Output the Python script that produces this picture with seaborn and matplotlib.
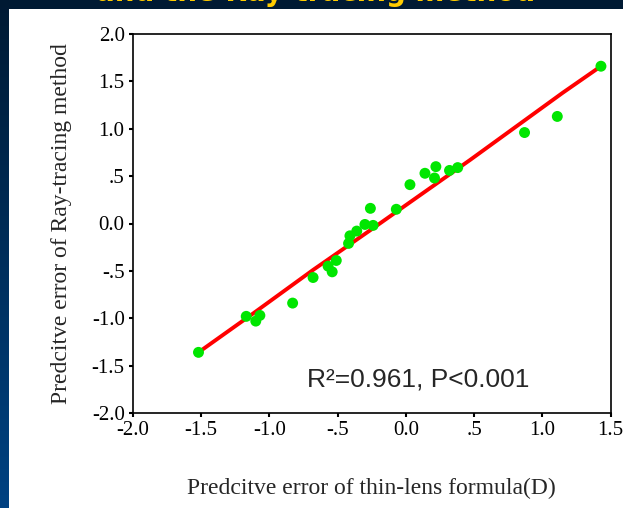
import numpy as np
import pandas as pd
import matplotlib
matplotlib.use("Agg")
import matplotlib.pyplot as plt
import seaborn as sns

# ------------------------------------
# DATA
# ------------------------------------
thin_lens_err = [-1.52, -1.17, -1.10, -1.07, -0.83, -0.68, -0.57, -0.54, -0.51,
                 -0.42, -0.41, -0.36, -0.30, -0.26, -0.24, -0.07, 0.03, 0.14,
                 0.21, 0.22, 0.32, 0.38, 0.87, 1.11, 1.43]
ray_tracing_err = [-1.36, -0.98, -1.03, -0.97, -0.84, -0.57, -0.45, -0.51, -0.39,
                   -0.21, -0.13, -0.08, -0.01, 0.16, -0.02, 0.15, 0.41, 0.53,
                   0.48, 0.60, 0.56, 0.59, 0.96, 1.13, 1.66]

# red fit line, sampled along its length
fit_x = [-1.52, -1.12, -0.68, -0.26, 0.47, 1.15, 1.43]
fit_y = [-1.36, -0.95, -0.49, -0.07, 0.67, 1.38, 1.66]

tick_values = [-2.0, -1.5, -1.0, -0.5, 0.0, 0.5, 1.0, 1.5, 2.0]
tick_labels = ["-2.0", "-1.5", "-1.0", "-.5", "0.0", ".5", "1.0", "1.5", "2.0"]

stat_text = "R\u00b2=0.961, P<0.001"
x_title = "Predcitve error of thin-lens formula(D)"
y_title = "Predcitve error of Ray-tracing method"
slide_title = "and the Ray-tracing method"


# ------------------------------------
# BACKGROUND (slide frame)
# ------------------------------------
def draw_background(fig):
    fig.patch.set_facecolor("#001a33")
    W, H = 623, 508
    # left strip: navy at top fading to blue at bottom
    t = np.linspace(0, 1, H)[:, None]
    top = np.array([0, 26, 51]) / 255
    bot = np.array([0, 66, 130]) / 255
    strip = top + (bot - top) * t[..., None]
    strip = np.repeat(strip, 9, axis=1)
    fig.figimage(strip, xo=0, yo=0, origin="upper", zorder=0)
    fig.add_artist(plt.Rectangle((9 / W, 0), 1 - 9 / W, 1 - 9 / H,
                                 transform=fig.transFigure,
                                 facecolor="white", edgecolor="none", zorder=0.5))
    # slide title, mostly above the visible area as in the source slide
    fig.text(316 / W, 1 - 1 / H, slide_title, color="#ffcc00", fontsize=20,
             fontweight="bold", family="DejaVu Sans", ha="center", va="baseline")


# ------------------------------------
# PLOT
# ------------------------------------
def main():
    sns.set_style("ticks")
    plt.rcParams["font.family"] = ["Liberation Serif", "DejaVu Serif"]

    fig = plt.figure(figsize=(6.23, 5.08), dpi=100)
    draw_background(fig)

    ax = fig.add_axes([133 / 623, 1 - 413 / 508, (610.5 - 133) / 623, (413 - 34) / 508])
    ax.set_facecolor("white")
    ax.set_zorder(2)

    df_pts = pd.DataFrame({"thin": thin_lens_err, "ray": ray_tracing_err})
    df_fit = pd.DataFrame({"x": fit_x, "y": fit_y})

    sns.lineplot(data=df_fit, x="x", y="y", color="#ff0000", linewidth=2.8,
                 ax=ax, zorder=2)
    sns.scatterplot(data=df_pts, x="thin", y="ray", color="#00e600", s=62,
                    edgecolor="none", ax=ax, zorder=3)

    ax.set_xlim(-2.0, 1.5)
    ax.set_ylim(-2.0, 2.0)
    ax.set_xticks(tick_values[:8])
    ax.set_xticklabels(tick_labels[:8])
    ax.set_yticks(tick_values)
    ax.set_yticklabels(tick_labels)
    ax.tick_params(direction="out", length=3, width=1.5, labelsize=15,
                   colors="black", pad=3)

    for s in ax.spines.values():
        s.set_linewidth(1.2)
        s.set_color("black")

    ax.set_xlabel(x_title, fontsize=17, labelpad=27)
    ax.set_ylabel(y_title, fontsize=17, labelpad=14)

    ax.text(-0.725, -1.65, stat_text, family="Liberation Sans", fontsize=19,
            ha="left", va="center")

    fig.savefig("out.png", dpi=100, facecolor=fig.get_facecolor())


if __name__ == "__main__":
    main()
